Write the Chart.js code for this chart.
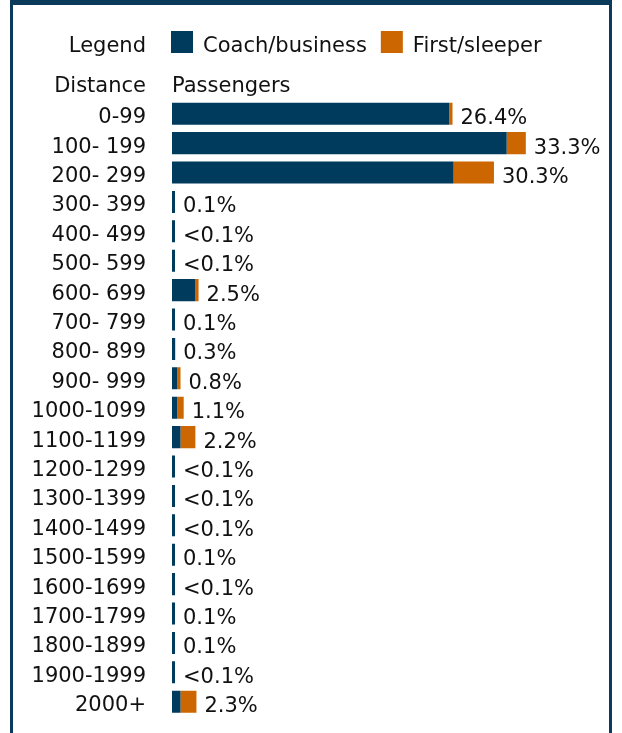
<!DOCTYPE html>
<html>
<head>
<meta charset="utf-8">
<script src="https://cdn.jsdelivr.net/npm/chart.js@4"></script>
<style>
  html, body { margin: 0; padding: 0; background: #fff; }
  #wrap { position: relative; width: 622px; height: 733px; overflow: hidden; }
  #frame {
    position: absolute; left: 10px; top: 0; width: 596px; height: 800px;
    border: 3px solid #0b3a5b; border-top-width: 5px;
  }
  #chart { position: absolute; left: 0; top: 0; }
</style>
</head>
<body>
<div id="wrap">
  <div id="frame"></div>
  <canvas id="chart" width="622" height="755"></canvas>
</div>
<script>
// distance bands (miles)
const distances = ['0-99', '100- 199', '200- 299', '300- 399', '400- 499', '500- 599',
    '600- 699', '700- 799', '800- 899', '900- 999', '1000-1099', '1100-1199',
    '1200-1299', '1300-1399', '1400-1499', '1500-1599', '1600-1699', '1700-1799',
    '1800-1899', '1900-1999', '2000+'];

// share of passengers, percent
const coachBusiness = [26.1, 31.5, 26.5, 0.1, 0.05, 0.05, 2.2, 0.1, 0.3, 0.5, 0.5, 0.8,
    0.05, 0.05, 0.05, 0.1, 0.05, 0.1, 0.1, 0.05, 0.8];
const firstSleeper = [0.3, 1.8, 3.8, 0, 0, 0, 0.3, 0, 0, 0.3, 0.6, 1.4,
    0, 0, 0, 0, 0, 0, 0, 0, 1.5];

const totalLabels = ['26.4%', '33.3%', '30.3%', '0.1%', '<0.1%', '<0.1%', '2.5%', '0.1%',
    '0.3%', '0.8%', '1.1%', '2.2%', '<0.1%', '<0.1%', '<0.1%', '0.1%', '<0.1%', '0.1%',
    '0.1%', '<0.1%', '2.3%'];

const seriesNames = ['Coach/business', 'First/sleeper'];
const seriesColors = ['#003a5c', '#cc6600'];

const FONT = '21px "DejaVu Sans"';
const TEXT = '#111';

// header: "Legend" row and "Distance / Passengers" row
const headerPlugin = {
    id: 'header',
    afterDraw(chart) {
        const ctx = chart.ctx;
        const left = chart.chartArea.left;
        ctx.save();
        ctx.font = FONT;
        ctx.fillStyle = TEXT;
        ctx.textBaseline = 'alphabetic';

        ctx.textAlign = 'right';
        ctx.fillText('Legend', left - 26, 52);
        ctx.fillText('Distance', left - 26, 92);

        ctx.textAlign = 'left';
        ctx.fillText('Passengers', left, 92);

        let x = left - 1;
        seriesNames.forEach((name, i) => {
            ctx.fillStyle = seriesColors[i];
            ctx.fillRect(x, 31, 22, 22);
            ctx.fillStyle = TEXT;
            ctx.fillText(name, x + 32, 52);
            x += 32 + ctx.measureText(name).width + 14;
        });
        ctx.restore();
    }
};

// percentage at the end of each stacked bar
const totalsPlugin = {
    id: 'totals',
    afterDatasetsDraw(chart) {
        const ctx = chart.ctx;
        const m0 = chart.getDatasetMeta(0).data;
        const m1 = chart.getDatasetMeta(1).data;
        ctx.save();
        ctx.font = FONT;
        ctx.fillStyle = TEXT;
        ctx.textAlign = 'left';
        ctx.textBaseline = 'alphabetic';
        totalLabels.forEach((txt, i) => {
            const end = Math.max(m0[i].x, firstSleeper[i] > 0 ? m1[i].x : 0);
            ctx.fillText(txt, end + 8, m0[i].y + 10.5);
        });
        ctx.restore();
    }
};

new Chart(document.getElementById('chart'), {
    type: 'bar',
    data: {
        labels: distances,
        datasets: [{
            label: seriesNames[0],
            data: coachBusiness,
            backgroundColor: seriesColors[0],
            minBarLength: 3
        }, {
            label: seriesNames[1],
            data: firstSleeper,
            backgroundColor: seriesColors[1]
        }]
    },
    options: {
        indexAxis: 'y',
        responsive: false,
        animation: false,
        devicePixelRatio: 1,
        categoryPercentage: 1,
        barPercentage: 0.75,
        layout: { padding: { top: 99, bottom: 16, left: 0, right: 25 } },
        scales: {
            x: { stacked: true, min: 0, max: 40, display: false },
            y: {
                stacked: true,
                afterFit: s => { s.width = 172; },
                grid: { display: false, drawTicks: false },
                border: { display: false },
                ticks: {
                    autoSkip: false,
                    padding: 26,
                    labelOffset: 4,
                    color: TEXT,
                    font: { family: 'DejaVu Sans', size: 21 }
                }
            }
        },
        plugins: {
            legend: { display: false },
            tooltip: { enabled: false }
        }
    },
    plugins: [headerPlugin, totalsPlugin]
});
</script>
</body>
</html>
